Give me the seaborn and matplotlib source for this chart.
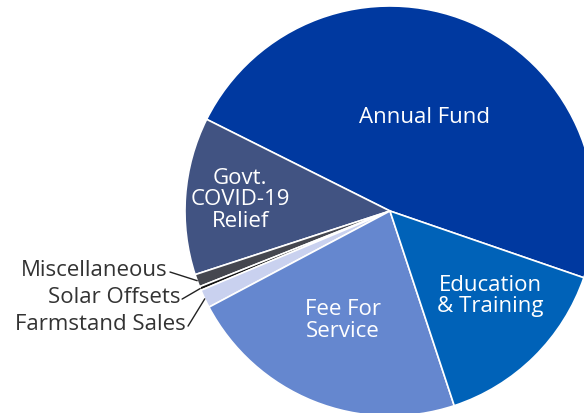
import numpy as np
import matplotlib
matplotlib.use("Agg")
import matplotlib.pyplot as plt
import seaborn as sns

categories = ["Annual Fund", "Govt.\nCOVID-19\nRelief", "Miscellaneous", "Solar Offsets",
              "Farmstand Sales", "Fee For\nService", "Education\n& Training"]
values = [47.9, 12.4, 1.0, 0.3, 1.45, 22.3, 14.65]
colors = ["#0039A0", "#415382", "#45474F", "#141414", "#C9D1EF", "#6587CF", "#0062B8"]
inside = [True, True, False, False, False, True, True]

sns.set_theme(style="white")
plt.rcParams['font.family'] = ['Open Sans', 'DejaVu Sans']

W, H = 584, 414
fig = plt.figure(figsize=(W / 100, H / 100), dpi=100)
ax = fig.add_axes([0, 0, 1, 1])

cx, cy, R = 390, 202, 205
wedges, _ = ax.pie(values, colors=colors, startangle=-19, counterclock=True,
                   center=(cx, cy), radius=R, frame=True,
                   wedgeprops=dict(edgecolor="white", linewidth=1.2))
ax.set_xlim(0, W)
ax.set_ylim(0, H)
ax.set_aspect('equal')
ax.axis('off')

FS = 16
# inside label offsets (fraction of radius)
inside_pos = {0: (0.17, 0.46), 1: (-0.73, 0.06), 5: (-0.23, -0.53), 6: (0.49, -0.41)}
for i, w in enumerate(wedges):
    if inside[i]:
        dx, dy = inside_pos[i]
        ax.text(cx + dx * R, cy + dy * R, categories[i], color="white", fontsize=FS,
                ha="center", va="center", linespacing=1.02)

# outside labels
out_pos = {2: (-1.083, -0.283), 3: (-1.024, -0.415), 4: (-0.995, -0.547)}
for i, (tx, ty) in out_pos.items():
    w = wedges[i]
    mid = np.deg2rad((w.theta1 + w.theta2) / 2)
    ex, ey = cx + R * np.cos(mid), cy + R * np.sin(mid)
    px, py = cx + tx * R, cy + ty * R
    ax.plot([px + 2, ex], [py - 3, ey], color="#222222", lw=1)
    ax.text(px, py, categories[i], color="#333333", fontsize=FS, ha="right", va="center")

fig.savefig("out.png", dpi=100)
